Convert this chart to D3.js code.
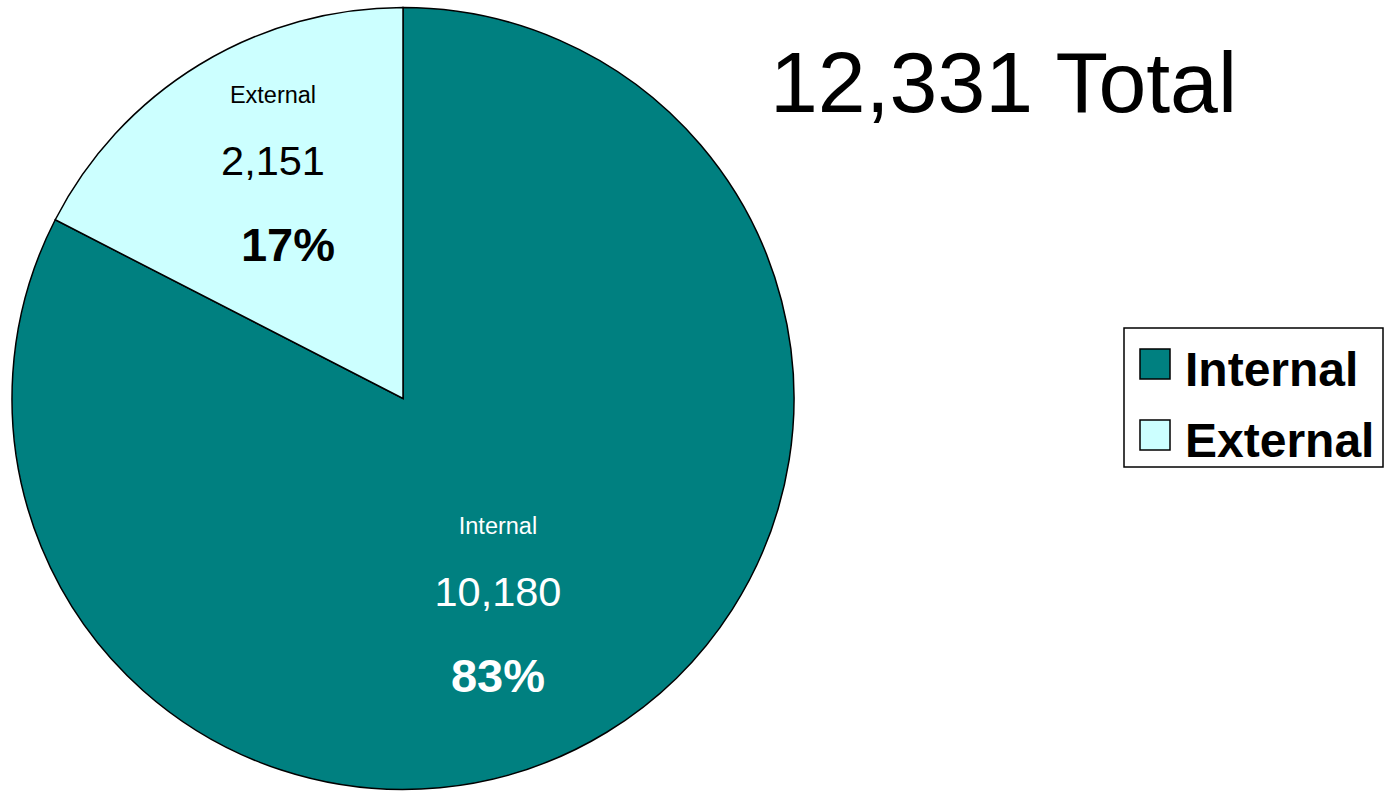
<!DOCTYPE html>
<html>
<head>
<meta charset="utf-8">
<script src="https://cdn.jsdelivr.net/npm/d3@7"></script>
<style>
  body { margin: 0; background: #fff; }
  svg { display: block; font-family: "Liberation Sans", Arial, sans-serif; }
</style>
</head>
<body>
<svg class="theSvg" width="1389" height="791"></svg>
<script>
var categories = ["Internal", "External"];
var values = [10180, 2151];
var colors = ["#008080", "#CCFFFF"];
var textColors = ["#fff", "#000"];

var total = d3.sum(values);
var data = categories.map(function(c, i){ return {"name": c, "value": values[i]}; });

var svg = d3.select(".theSvg");
var cx = 403, cy = 398.5, radius = 391;

var pie = d3.pie().sort(null).value(function(d){ return d.value; });
var arc = d3.arc().innerRadius(0).outerRadius(radius);

var g = svg.append("g").attr("transform", "translate(" + cx + "," + cy + ")");

var slices = g.selectAll(".slice")
	.data(pie(data))
	.enter()
	.append("g")
	.attr("class", "slice");

slices.append("path")
	.attr("d", arc)
	.attr("fill", function(d, i){ return colors[i]; })
	.attr("stroke", "#000")
	.attr("stroke-width", 1.5);

// label placement, tweaked by eye per slice
var labelPos = [{"r": 0.585, "da": 0.12}, {"r": 0.66, "da": 0.02}];
var fmt = d3.format(",");
var pctFmt = d3.format(".0%");

var labels = slices.append("g")
	.attr("transform", function(d, i){
		var a = (d.startAngle + d.endAngle) / 2 + labelPos[i].da;
		var r = radius * labelPos[i].r;
		return "translate(" + (Math.sin(a) * r) + "," + (-Math.cos(a) * r) + ")";
	})
	.attr("fill", function(d, i){ return textColors[i]; })
	.attr("text-anchor", "middle");

labels.append("text")
	.attr("y", -73)
	.attr("font-size", "23.5px")
	.text(function(d){ return d.data.name; });

labels.append("text")
	.attr("y", -1)
	.attr("font-size", "41.5px")
	.text(function(d){ return fmt(d.data.value); });

labels.append("text")
	.attr("x", function(d, i){ return i == 1 ? 15 : 0; })
	.attr("y", 85)
	.attr("font-size", "47px")
	.attr("font-weight", "bold")
	.text(function(d){ return pctFmt(d.data.value / total); });

svg.append("text")
	.attr("x", 770)
	.attr("y", 112)
	.attr("font-size", "86px")
	.text(fmt(total) + " Total");

// legend
var legend = svg.append("g").attr("transform", "translate(1124,328)");

legend.append("rect")
	.attr("width", 259)
	.attr("height", 139)
	.attr("fill", "#fff")
	.attr("stroke", "#000")
	.attr("stroke-width", 1.5);

var items = legend.selectAll(".item")
	.data(data)
	.enter()
	.append("g")
	.attr("class", "item")
	.attr("transform", function(d, i){ return "translate(0," + (i * 71) + ")"; });

items.append("rect")
	.attr("x", 16)
	.attr("y", 21)
	.attr("width", 30)
	.attr("height", 30)
	.attr("fill", function(d, i){ return colors[i]; })
	.attr("stroke", "#000")
	.attr("stroke-width", 1.5);

items.append("text")
	.attr("x", 61)
	.attr("y", 58)
	.attr("font-size", "48px")
	.attr("font-weight", "bold")
	.text(function(d){ return d.name; });
</script>
</body>
</html>
